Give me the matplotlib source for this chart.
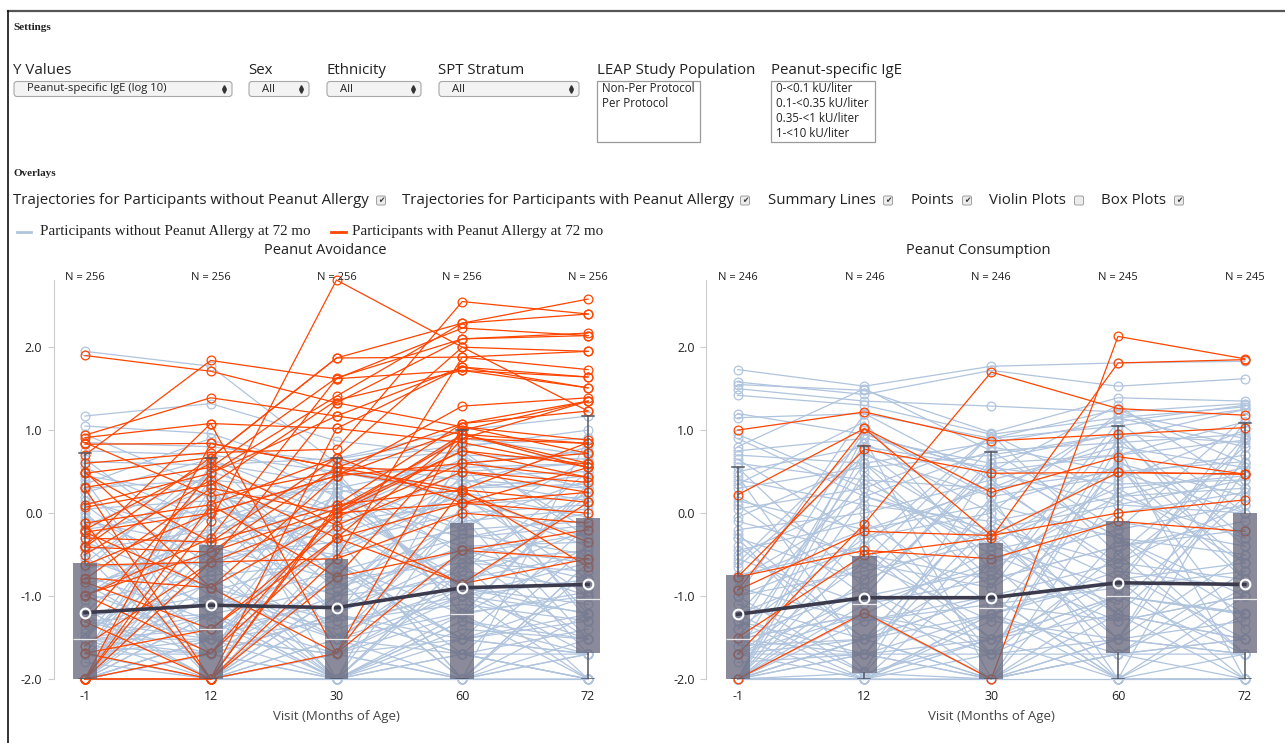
import numpy as np
import matplotlib
matplotlib.use("Agg")
import matplotlib.pyplot as plt
from matplotlib.patches import FancyBboxPatch, Rectangle
from matplotlib.ticker import FormatStrFormatter

# ─── Data ─────────────────────────────────────────────────────────────────────

visits = ["-1", "12", "30", "60", "72"]
n_avoid = [256, 256, 256, 256, 256]
n_consume = [246, 246, 246, 245, 245]

# summary (mean) line and box-plot stats per visit
avoid_mean = [-1.20, -1.11, -1.14, -0.90, -0.86]
avoid_med = [-1.52, -1.40, -1.52, -1.22, -1.04]
avoid_q1 = [-2.00, -2.00, -2.00, -2.00, -1.69]
avoid_q3 = [-0.60, -0.39, -0.55, -0.12, -0.06]
avoid_whislo = [-2.00, -2.00, -2.00, -2.00, -2.00]
avoid_whishi = [0.72, 0.67, 0.67, 1.00, 1.17]

consume_mean = [-1.22, -1.02, -1.02, -0.84, -0.86]
consume_med = [-1.52, -1.10, -1.15, -1.00, -1.04]
consume_q1 = [-2.00, -1.93, -2.00, -1.69, -1.69]
consume_q3 = [-0.75, -0.52, -0.36, -0.09, 0.00]
consume_whislo = [-2.00, -2.00, -2.00, -2.00, -2.00]
consume_whishi = [0.55, 0.81, 0.74, 1.05, 1.09]

# participant trajectories (log10 IgE at visits -1, 12, 30, 60, 72)
avoid_no_pa = [
    [1.95, 1.77, 0.60, 0.40, 0.30], [1.17, 1.32, 0.87, 0.70, 0.65],
    [1.05, 0.96, 0.45, 0.55, 0.60], [0.85, 0.80, 0.62, 0.82, 0.90],
    [0.75, 0.70, 0.50, 0.30, 0.35], [0.62, 0.58, 0.66, 1.00, 1.17],
    [0.45, 0.20, -0.10, 0.10, 0.20], [0.30, 0.40, 0.25, 0.45, 0.50],
    [0.15, -0.30, -0.50, -0.20, -0.10], [0.05, 0.15, 0.30, 0.60, 0.75],
    [-0.10, -0.40, -0.80, -0.60, -0.45], [-0.20, 0.05, -0.25, 0.20, -0.30],
    [-0.35, -0.90, -1.30, -1.00, -0.80], [-0.45, -0.20, 0.10, -0.40, -0.60],
    [-0.55, -1.10, -0.70, -0.30, -0.15], [-0.65, -0.60, -1.52, -1.20, -1.00],
    [-0.75, -1.30, -2.00, -1.70, -1.40], [-0.85, -0.50, -0.35, 0.00, 0.10],
    [-0.95, -1.52, -1.00, -0.80, -0.50], [-1.05, -0.75, -0.60, -1.52, -1.30],
    [-1.15, -2.00, -1.70, -2.00, -1.70], [-1.25, -1.00, -1.40, -0.90, -1.10],
    [-1.30, -1.70, -1.22, -0.50, -0.25], [-1.40, -0.85, -2.00, -1.40, -1.52],
    [-1.52, -1.40, -1.10, -0.70, -0.90], [-1.52, -2.00, -1.52, -2.00, -2.00],
    [-1.52, -1.22, -0.90, -0.10, 0.05], [-1.60, -1.70, -2.00, -1.30, -1.52],
    [-1.70, -1.52, -1.70, -1.00, -1.20], [-1.70, -2.00, -0.45, 0.30, 0.45],
    [-1.70, -1.00, -1.52, -1.70, -1.70], [-1.70, -1.70, -1.22, -1.52, -1.00],
    [-1.80, -2.00, -2.00, -0.60, -0.70], [-2.00, -2.00, -2.00, -2.00, -2.00],
    [-2.00, -1.52, -1.30, -1.10, -1.30], [-2.00, -2.00, -1.70, -1.52, -1.70],
    [-2.00, -1.70, -2.00, -2.00, -1.52], [-2.00, -2.00, -1.00, -0.40, -0.35],
    [-2.00, -0.60, -0.20, 0.50, 0.60], [-2.00, -2.00, -2.00, -1.70, -2.00],
    [-2.00, -1.22, -1.70, -1.22, -0.95], [-2.00, -2.00, -1.52, -1.00, -0.60],
    [-2.00, -1.52, -2.00, -2.00, -1.70], [-2.00, -2.00, -0.70, -1.52, -1.22],
    [-2.00, -1.70, -1.22, -0.25, -0.50], [-2.00, -2.00, -2.00, -1.30, -1.70],
    [0.55, -0.10, 0.40, -0.50, -1.00], [0.25, 0.65, 0.05, -0.80, -0.20],
    [-0.05, -0.70, 0.55, 0.15, -0.40], [-0.30, 0.30, -0.60, -1.70, -2.00],
    [-0.60, 0.50, 0.00, 0.65, 0.30], [-0.90, -0.25, -0.15, -1.00, -1.52],
    [-1.20, 0.10, -0.40, 0.40, 0.15], [-1.45, -0.45, 0.20, -0.30, 0.00],
    [-1.70, 0.20, -0.90, -0.45, -0.80], [-2.00, 0.60, 0.35, -0.15, 0.40],
    [-2.00, -0.30, 0.65, 0.90, 0.70], [-2.00, -0.95, -0.50, 0.25, -0.05],
    [-1.52, 0.00, -1.52, 0.00, -1.00], [-1.30, -1.52, 0.45, -1.22, 0.35],
    [0.40, -1.70, -0.30, -2.00, -0.70], [-0.20, -2.00, -1.22, 0.60, -1.30],
    [0.10, -1.00, -2.00, -0.70, 0.50], [0.95, 0.30, -0.60, -1.22, -0.40],
    [0.65, -0.45, -1.00, 0.35, 0.80], [0.35, 0.90, 0.20, -0.90, -1.22],
    [0.00, -1.22, 0.60, 0.75, -0.30], [-0.15, 0.45, -1.52, -0.60, 0.25],
    [-0.40, -1.52, -0.10, 0.95, 0.55], [-0.70, 0.65, -0.80, -2.00, -0.60],
    [-1.00, -0.20, 0.50, 0.20, -0.80], [-1.22, -2.00, 0.30, -0.20, 0.65],
    [-1.52, 0.40, -0.60, -1.52, -0.15], [-1.70, -0.70, 0.00, 0.80, 1.00],
    [-1.70, 0.55, -2.00, 0.10, -1.52], [-2.00, -1.22, 0.15, -0.90, 0.20],
    [-2.00, 0.30, -1.22, -0.05, -1.70], [-2.00, -1.70, 0.50, -1.22, 0.30],
    [-2.00, -0.45, -2.00, 0.70, -0.20], [-1.52, -1.70, -0.80, -2.00, -0.60],
    [-1.30, -1.22, -2.00, -0.60, -2.00], [-1.70, -2.00, -1.00, 0.45, -1.22],
    [-2.00, -1.52, -0.30, -2.00, 0.90], [-0.50, -2.00, -1.70, -0.90, -1.70],
    [-1.00, 0.00, -1.22, -1.70, -2.00], [-2.00, -0.80, -1.52, -0.50, -1.52],
    [-1.52, -1.52, -1.70, -2.00, -1.22], [-2.00, -2.00, -1.22, -1.70, -0.40],
    [-1.70, -1.22, -2.00, -1.22, -2.00], [0.20, -0.60, -2.00, -1.52, -1.70],
    [-0.85, -1.70, 0.25, -1.00, -2.00],
]

avoid_pa = [
    [1.90, 1.71, 1.33, 1.04, 0.88], [0.70, 1.84, 1.62, 2.23, 2.14],
    [0.94, 1.39, 1.17, 0.95, 0.55], [0.91, 1.08, 1.02, 1.76, 1.64],
    [0.83, 0.84, 0.55, 0.28, 0.13], [0.60, 0.73, 0.77, 2.55, 2.40],
    [0.48, 0.67, 1.87, 1.88, 1.73], [0.31, 0.55, 1.63, 2.10, 2.17],
    [0.10, 0.48, 1.41, 2.29, 2.58], [0.07, 0.34, 1.36, 1.72, 1.51],
    [-0.12, 0.10, 0.67, 2.00, 1.95], [-0.23, 0.00, 0.45, 1.29, 1.39],
    [-0.30, -0.35, 0.10, 1.08, 1.35], [-0.41, -0.47, 0.05, 0.90, 0.84],
    [-0.63, -0.59, 0.00, 0.75, 0.59], [-0.78, -0.90, -0.05, 0.60, 0.43],
    [-0.83, -1.40, -0.15, 0.50, 0.25], [-0.99, -1.69, -0.30, 0.12, 0.00],
    [-1.31, -2.00, -0.55, 0.00, -0.12], [-1.69, -2.00, -0.77, -0.45, -0.20],
    [-2.00, -0.10, 2.81, 2.00, 1.23], [-2.00, -2.00, -1.69, 1.04, 0.72],
    [-2.00, 0.84, 0.55, 0.50, 0.37], [0.30, -2.00, 1.02, 0.85, 0.55],
    [-0.50, 0.40, -0.30, 0.95, 0.84], [-1.00, -0.30, 1.62, 1.72, 1.64],
    [-0.20, 0.60, -0.15, -0.85, -0.55], [0.85, 0.20, 0.50, 0.25, -0.35],
    [-0.80, 0.30, 0.00, 0.12, 0.55], [-1.60, -0.59, 1.33, 2.10, 2.14],
    [0.50, -0.90, 0.45, 1.00, 1.35], [-0.40, 1.08, -1.69, 0.28, -0.65],
    [-2.00, -1.69, 0.00, 0.95, 0.60], [-2.00, -2.00, 0.10, 0.28, 0.85],
    [-1.69, -1.40, -0.30, -0.85, 0.13], [-1.31, 0.48, 1.17, 1.76, 1.51],
    [-0.99, -0.47, 0.55, 1.08, 1.23], [-0.23, -0.90, -1.69, -0.45, -0.55],
    [0.48, -0.35, 0.67, 0.12, 0.25], [-2.00, -0.59, -0.55, 1.88, 1.95],
    [-0.63, 0.00, 0.45, 0.60, 0.72], [-0.12, -2.00, 0.05, 0.75, 0.43],
    [-2.00, 0.10, -0.77, 0.90, 1.35], [-0.41, 0.67, 1.87, 2.29, 2.40],
]

consume_no_pa = [
    [1.73, 1.53, 1.77, 1.81, 1.83], [1.58, 1.43, 1.72, 1.53, 1.62],
    [1.55, 1.48, 0.97, 1.39, 1.35], [1.50, 1.35, 1.29, 1.22, 1.32],
    [1.42, 1.30, 0.95, 1.15, 1.28], [1.15, 1.20, 0.90, 1.05, 1.25],
    [0.80, 1.50, 0.75, 0.85, 0.95], [0.75, 0.90, 0.60, 0.70, 0.88],
    [0.70, 0.60, 0.85, 1.10, 1.30], [0.60, 0.40, 0.30, 0.50, 0.62],
    [0.50, 0.80, 0.55, 0.35, 0.40], [0.40, 0.10, -0.10, 0.20, 0.30],
    [0.30, 0.55, 0.70, 0.95, 0.85], [0.15, -0.20, 0.10, -0.30, -0.50],
    [0.05, 0.30, -0.40, 0.60, 0.20], [-0.10, -0.50, -0.80, -0.40, -0.20],
    [-0.20, 0.00, 0.40, 0.80, 0.55], [-0.30, -0.80, -0.20, 0.10, 0.00],
    [-0.45, -0.10, -1.10, -0.90, -0.70], [-0.55, -1.10, -0.60, -0.20, 0.10],
    [-0.65, 0.70, 0.20, 0.45, 0.70], [-0.75, -0.40, -1.52, -1.00, -1.20],
    [-0.90, -1.30, -1.00, -0.60, -0.80], [-1.00, -0.70, -0.35, 0.30, 0.45],
    [-1.10, -1.52, -2.00, -1.70, -1.52], [-1.22, -1.00, -0.70, -1.30, -1.00],
    [-1.30, -1.70, -1.22, -0.80, -0.60], [-1.40, -0.30, 0.00, 1.20, 0.90],
    [-1.52, -1.22, -1.70, -1.52, -1.70], [-1.52, -2.00, -1.52, -1.00, -1.22],
    [-1.52, -0.90, 0.50, 0.70, 1.10], [-1.60, -1.52, -1.00, -2.00, -1.70],
    [-1.70, -1.70, -2.00, -1.70, -2.00], [-1.70, -1.22, -0.45, -0.10, -0.40],
    [-1.70, -2.00, -1.30, -1.52, -1.30], [-1.70, -0.60, -0.90, 0.00, 0.25],
    [-1.80, -1.70, -1.52, -1.22, -1.52], [-2.00, -2.00, -2.00, -2.00, -2.00],
    [-2.00, -1.52, -1.22, -0.70, -0.90], [-2.00, -2.00, -1.70, -1.70, -1.70],
    [-2.00, -1.70, -2.00, -1.00, -1.22], [-2.00, -1.10, -0.80, -0.40, -0.10],
    [-2.00, -2.00, -2.00, -1.52, -1.70], [-2.00, -1.93, -1.52, -2.00, -2.00],
    [-2.00, -0.20, 0.30, 0.90, 1.25], [-2.00, -1.30, -1.10, -1.30, -1.00],
    [-2.00, -2.00, -0.60, 0.20, -0.30], [-2.00, -1.52, -2.00, -1.70, -1.52],
    [-2.00, 0.20, -0.20, -0.60, 0.60], [-2.00, -0.80, 0.80, 0.50, 0.00],
    [-1.22, 0.40, -0.50, -1.10, 0.30], [-0.30, -1.90, 0.60, -0.30, -1.00],
    [0.20, -0.60, -1.30, 0.60, -1.40], [-0.60, 0.90, -2.00, 0.30, -0.60],
    [-1.00, -0.40, 0.95, -0.50, 0.80], [0.90, 0.20, -0.30, -1.52, 0.50],
    [-1.40, 1.00, 0.20, -2.00, 0.70], [-2.00, 0.50, -0.90, 1.00, -0.80],
    [0.45, -1.70, -0.10, -0.80, 0.92], [-0.80, 0.10, -1.70, 0.80, -2.00],
    [1.20, 0.95, 0.50, 0.10, 0.40], [0.95, 0.30, 0.90, 1.25, 0.60],
    [0.65, -0.30, 0.35, -0.60, 0.10], [0.35, 1.10, -0.70, 0.40, 1.00],
    [0.10, -1.00, 0.65, 0.95, -0.30], [-0.05, 0.60, -0.30, -1.22, 0.20],
    [-0.25, -1.52, 0.10, 0.55, -0.80], [-0.50, 0.20, 0.75, -0.20, 1.15],
    [-0.80, -0.20, -1.52, 0.90, -0.40], [-1.00, 1.20, 0.40, -0.70, -1.52],
    [-1.22, -0.60, 0.95, 0.20, 0.55], [-1.52, 0.60, -0.80, 1.10, 0.00],
    [-1.70, 0.85, 0.00, -1.52, 0.90], [-1.70, -1.00, 0.60, -0.30, -1.22],
    [-2.00, 0.95, 0.50, 1.30, 0.30], [-2.00, -0.45, -1.70, 0.65, -0.60],
    [-2.00, 0.75, -0.40, -0.90, 1.10], [-2.00, -1.70, 0.20, 1.15, 0.80],
    [-1.52, -1.22, -2.00, -0.30, -1.70], [-1.30, -2.00, -1.22, -1.70, -0.90],
    [-1.70, -1.52, -0.60, -2.00, -1.00], [-2.00, -1.22, -1.52, -0.80, -2.00],
    [-1.22, -1.93, -2.00, -1.22, -1.52], [-2.00, -2.00, -1.22, -2.00, -1.22],
    [-1.52, -1.70, -1.70, -0.50, -1.70], [-2.00, -0.95, -2.00, -1.52, -0.50],
    [-0.40, -1.52, -1.00, -2.00, -2.00], [0.55, -0.90, -1.70, -1.00, -1.70],
    [-1.00, -1.93, -0.20, -1.70, -0.70], [-2.00, -1.52, 0.10, -1.22, -2.00],
]

consume_pa = [
    [1.00, 1.22, 0.87, 0.95, 1.03], [0.22, 1.02, 0.25, 0.68, 0.47],
    [-0.77, 0.77, 0.48, 0.49, 0.47], [-1.70, -0.13, 1.70, 1.26, 1.18],
    [-0.93, -0.22, -0.27, 0.00, 0.16], [-0.77, -0.45, -0.55, -0.10, -0.22],
    [-2.00, -1.20, -2.00, 2.13, 1.86], [-1.50, -0.50, -0.30, 1.81, 1.85],
    [-0.93, 1.02, -0.27, 0.49, 0.47],
]

# ─── Style ────────────────────────────────────────────────────────────────────

W, H = 1285, 743
BLUE = "#b0c4de"
ORANGE = "#ff4500"
BOX = "#66667a"
SUMMARY = "#3b3b4d"
TXT = "#222222"
UI_FONT = "Open Sans"
SERIF = "Liberation Serif"

fig = plt.figure(figsize=(W / 100, H / 100), dpi=100, facecolor="white")
bg = fig.add_axes([0, 0, 1, 1])
bg.set_xlim(0, W)
bg.set_ylim(H, 0)
bg.axis("off")


def px_axes(x0, y0, x1, y1):
    return fig.add_axes([x0 / W, 1 - y1 / H, (x1 - x0) / W, (y1 - y0) / H])


# ─── Page frame ───────────────────────────────────────────────────────────────
bg.plot([8, W], [11, 11], color="#555555", lw=1.6)
bg.plot([8, 8], [11, H], color="#111111", lw=1.2)

# ─── Settings block ───────────────────────────────────────────────────────────
bg.text(13, 27, "Settings", fontsize=8, fontweight="bold", family=SERIF,
        va="center", color=TXT)


def dropdown(x0, x1, label, value):
    bg.text(x0, 70, label, fontsize=10.8, family=UI_FONT, va="center", color=TXT)
    bg.add_patch(FancyBboxPatch((x0 + 1, 81.5), x1 - x0 - 2, 15,
                                boxstyle="round,pad=0,rounding_size=3",
                                fc="#f3f3f3", ec="#a8a8a8", lw=0.8))
    bg.text(x0 + 14, 89, value, fontsize=8.1, family=UI_FONT, va="center", color=TXT)
    bg.plot([x1 - 9], [86.8], marker="^", ms=2.6, color="#333333")
    bg.plot([x1 - 9], [91.4], marker="v", ms=2.6, color="#333333")


dropdown(13, 233, "Y Values", "Peanut-specific IgE (log 10)")
dropdown(248, 310, "Sex", "All")
dropdown(326, 422, "Ethnicity", "All")
dropdown(438, 580, "SPT Stratum", "All")


def listbox(x0, x1, label, items):
    bg.text(x0, 70, label, fontsize=10.8, family=UI_FONT, va="center", color=TXT)
    bg.add_patch(Rectangle((x0, 81), x1 - x0, 61, fc="white", ec="#9a9a9a", lw=0.9))
    for i, it in enumerate(items):
        bg.text(x0 + 5, 89 + i * 14.8, it, fontsize=8.3, family=UI_FONT,
                va="center", color=TXT)


listbox(597, 700, "LEAP Study Population", ["Non-Per Protocol", "Per Protocol"])
listbox(771, 875, "Peanut-specific IgE",
        ["0-<0.1 kU/liter", "0.1-<0.35 kU/liter", "0.35-<1 kU/liter", "1-<10 kU/liter"])

# ─── Overlays block ───────────────────────────────────────────────────────────
bg.text(13, 173, "Overlays", fontsize=8, fontweight="bold", family=SERIF,
        va="center", color=TXT)

overlays = [
    (13, 381, "Trajectories for Participants without Peanut Allergy", True),
    (402, 745, "Trajectories for Participants with Peanut Allergy", True),
    (768, 888, "Summary Lines", True),
    (911, 967, "Points", True),
    (989, 1079, "Violin Plots", False),
    (1101, 1179, "Box Plots", True),
]
for tx, cx, label, checked in overlays:
    bg.text(tx, 200, label, fontsize=10.8, family=UI_FONT, va="center", color=TXT)
    bg.add_patch(FancyBboxPatch((cx - 4.5, 196), 9, 9,
                                boxstyle="round,pad=0,rounding_size=1.5",
                                fc="#ececec", ec="#a0a0a0", lw=0.7))
    if checked:
        bg.text(cx, 200.8, "\u2714", fontsize=5.5, ha="center", va="center",
                color="#333333", family="DejaVu Sans")

# legend row
bg.plot([17, 31], [232, 232], color=BLUE, lw=2)
bg.text(40, 232, "Participants without Peanut Allergy at 72 mo", fontsize=10.8,
        family=SERIF, va="center", color=TXT)
bg.plot([331, 346], [232, 232], color=ORANGE, lw=2)
bg.text(352, 232, "Participants with Peanut Allergy at 72 mo", fontsize=10.8,
        family=SERIF, va="center", color=TXT)

# panel titles
bg.text(325, 250, "Peanut Avoidance", fontsize=10.5, family=UI_FONT,
        ha="center", va="center", color=TXT)
bg.text(978, 250, "Peanut Consumption", fontsize=10.5, family=UI_FONT,
        ha="center", va="center", color=TXT)

# ─── Panels ───────────────────────────────────────────────────────────────────
YTOP = 2.81


def draw_panel(ax, no_pa, pa, mean, med, q1, q3, wlo, whi, ns):
    x = np.arange(len(visits))
    for row in no_pa:
        ax.plot(x, row, color=BLUE, lw=0.9, marker="o", ms=6.3, mfc="none",
                mew=0.9, clip_on=False, zorder=2)
    for row in pa:
        ax.plot(x, row, color=ORANGE, lw=0.9, marker="o", ms=6.3, mfc="none",
                mew=0.9, clip_on=False, zorder=3)

    stats = [dict(med=med[i], q1=q1[i], q3=q3[i], whislo=wlo[i], whishi=whi[i],
                  fliers=[]) for i in range(len(visits))]
    ax.bxp(stats, positions=x, widths=0.19, patch_artist=True, showfliers=False,
           boxprops=dict(facecolor=BOX, edgecolor="none", alpha=0.76),
           medianprops=dict(color="#e8e8e8", lw=0.9),
           whiskerprops=dict(color="#555560", lw=1.1),
           capprops=dict(color="#555560", lw=1.1),
           manage_ticks=False, zorder=4)

    ax.plot(x, mean, color=SUMMARY, lw=2.6, marker="o", ms=7, mfc="none",
            mec="white", mew=1.5, clip_on=False, zorder=6)

    for i, n in enumerate(ns):
        ax.text(i, YTOP + 0.035, f"N = {n}", fontsize=8, family=UI_FONT,
                ha="center", va="center", color=TXT)

    ax.set_facecolor("none")
    ax.set_xlim(-0.25, len(visits) - 0.75)
    ax.set_ylim(-2.0, YTOP)
    ax.set_xticks(x, visits)
    ax.set_yticks([-2, -1, 0, 1, 2])
    ax.yaxis.set_major_formatter(FormatStrFormatter("%.1f"))
    for s in ("top", "right", "bottom"):
        ax.spines[s].set_visible(False)
    ax.spines["left"].set_color("#cccccc")
    ax.tick_params(axis="x", length=0, pad=8, labelsize=9, labelcolor=TXT)
    ax.tick_params(axis="y", length=4, color="#cccccc", pad=4, labelsize=9,
                   labelcolor=TXT)
    for lab in ax.get_xticklabels() + ax.get_yticklabels():
        lab.set_family(UI_FONT)
    ax.set_xlabel("Visit (Months of Age)", fontsize=9.5, family=UI_FONT,
                  color="#444444", labelpad=5)


ax1 = px_axes(53.5, 280, 619.5, 679)
draw_panel(ax1, avoid_no_pa, avoid_pa, avoid_mean, avoid_med, avoid_q1, avoid_q3,
           avoid_whislo, avoid_whishi, n_avoid)

ax2 = px_axes(706, 280, 1276.5, 679)
draw_panel(ax2, consume_no_pa, consume_pa, consume_mean, consume_med, consume_q1,
           consume_q3, consume_whislo, consume_whishi, n_consume)

fig.savefig("out.png", dpi=100, facecolor="white")
